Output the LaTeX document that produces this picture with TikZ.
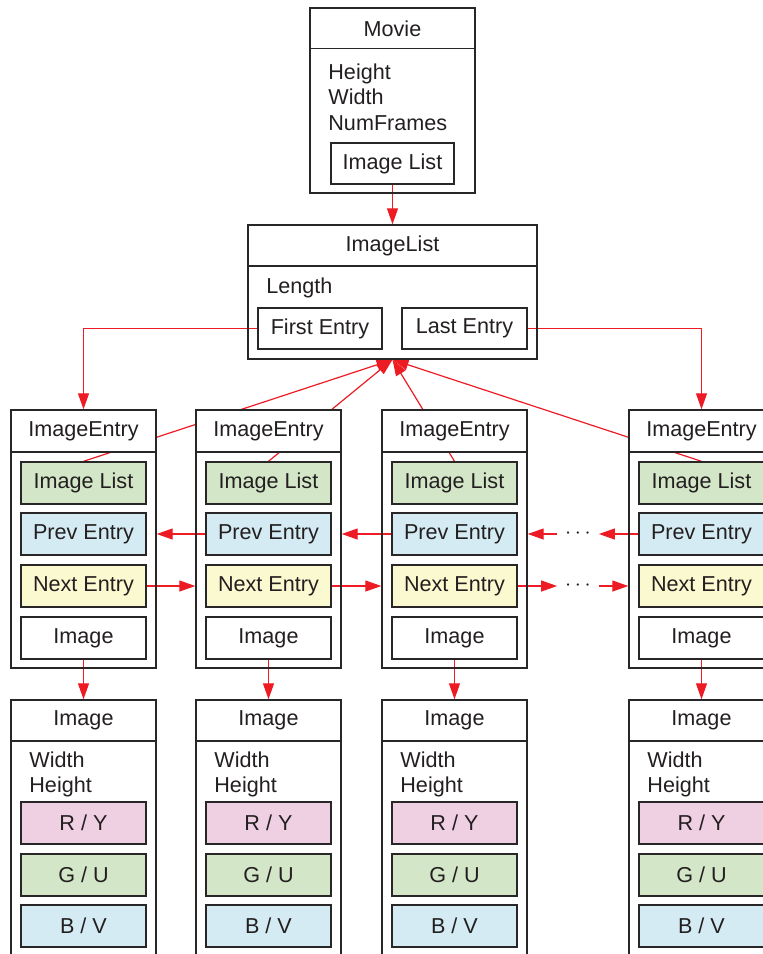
\documentclass[tikz,border=0pt]{standalone}
\usepackage{fontspec}
\setmainfont{Liberation Sans}
\usetikzlibrary{arrows.meta,backgrounds}
\definecolor{boxline}{RGB}{40,38,38}
\definecolor{textgray}{RGB}{35,31,32}
\definecolor{linkred}{RGB}{237,28,36}
\definecolor{entgreen}{RGB}{211,230,200}
\definecolor{entblue}{RGB}{212,235,243}
\definecolor{entyellow}{RGB}{251,249,208}
\definecolor{entpink}{RGB}{239,207,226}
\tikzset{
  outer/.style={draw=boxline,line width=0.7pt,inner sep=0pt},
  head/.style={draw=boxline,line width=0.7pt,fill=white,inner sep=0pt},
  field/.style={draw=boxline,line width=0.7pt,inner sep=0pt,minimum width=62.5pt,minimum height=21pt},
  attr/.style={inner sep=0pt,align=left},
  link/.style={draw=linkred,line width=0.6pt,-{Triangle[length=8pt,width=5.5pt]}},
}

\begin{document}
\begin{tikzpicture}[x=0.5pt,y=-0.5pt,font=\fontsize{10.8}{12.75}\selectfont,text=textgray]
  \useasboundingbox (0,0) rectangle (763,954);
  \clip (0,0) rectangle (763,954);
  % movie
  \node[outer,minimum width=82.5pt,minimum height=92.5pt] (movie) at (392.5,100.5) {};
  \node[head,minimum width=82.5pt,minimum height=20pt] (movieh) at (392.5,28.5) {Movie};
  \node[attr,anchor=north west] (movieattr) at (328,63) {Height\\Width\\NumFrames};
  \node[field,fill=white,minimum width=61.5pt,minimum height=20.5pt] (mil) at (392.5,163.5) {Image List};
  % image list
  \node[outer,minimum width=144.5pt,minimum height=67pt] (list) at (392.5,292) {};
  \node[head,minimum width=144.5pt,minimum height=20.5pt] (listh) at (392.5,245.5) {ImageList};
  \node[attr,anchor=west] (len) at (266,288) {Length};
  \node[field,fill=white,minimum width=62pt,minimum height=20.5pt] (fe) at (320,328.5) {First Entry};
  \node[field,fill=white,minimum height=20.5pt] (le) at (464.5,328.5) {Last Entry};
  % entries and images
  \foreach \i/\x in {1/83.5,2/268.5,3/454.5,4/701.5} {
    \node[outer,minimum width=72.5pt,minimum height=129pt] (e\i) at (\x,539) {};
    \node[head,minimum width=72.5pt,minimum height=21pt] (eh\i) at (\x,431) {ImageEntry};
    \node[field,fill=entgreen] (il\i) at (\x,483) {Image List};
    \node[field,fill=entblue] (pv\i) at (\x,534) {Prev Entry};
    \node[field,fill=entyellow] (nx\i) at (\x,586) {Next Entry};
    \node[field,fill=white] (im\i) at (\x,638) {Image};
    \node[outer,minimum width=72.5pt,minimum height=150pt] (g\i) at (\x,850) {};
    \node[head,minimum width=72.5pt,minimum height=20.5pt] (gh\i) at (\x,720.5) {Image};
    \node[attr,anchor=north west] (wh\i) at (\x-54.5,751) {Width\\Height};
    \node[field,fill=entpink] (r\i) at (\x,823) {R / Y};
    \node[field,fill=entgreen] (u\i) at (\x,875) {G / U};
    \node[field,fill=entblue] (v\i) at (\x,926) {B / V};
  }
  \node[inner sep=0pt,minimum width=20.5pt] (dp) at (578,534) {$\cdots$};
  \node[inner sep=0pt,minimum width=20.5pt] (dn) at (578,586) {$\cdots$};
  % links
  \begin{scope}[on background layer]
    \draw[link] (mil.south) -- (list.north);
    \draw[link] (fe.west) -| (e1.north);
    \draw[link] (le.east) -| (e4.north);
    \foreach \i in {1,...,4} {
      \draw[link] (il\i.north) -- (list.south);
      \draw[link] (im\i.south) -- (gh\i.north);
    }
    \draw[link] (pv2.west) -- (pv2.west -| e1.east);
    \draw[link] (pv3.west) -- (pv3.west -| e2.east);
    \draw[link] (pv4.west) -- (dp.east);
    \draw[link] (dp.west) -- (dp.west -| e3.east);
    \draw[link] (nx1.east) -- (nx1.east -| e2.west);
    \draw[link] (nx2.east) -- (nx2.east -| e3.west);
    \draw[link] (nx3.east) -- (dn.west);
    \draw[link] (dn.east) -- (dn.east -| e4.west);
  \end{scope}
\end{tikzpicture}
\end{document}
